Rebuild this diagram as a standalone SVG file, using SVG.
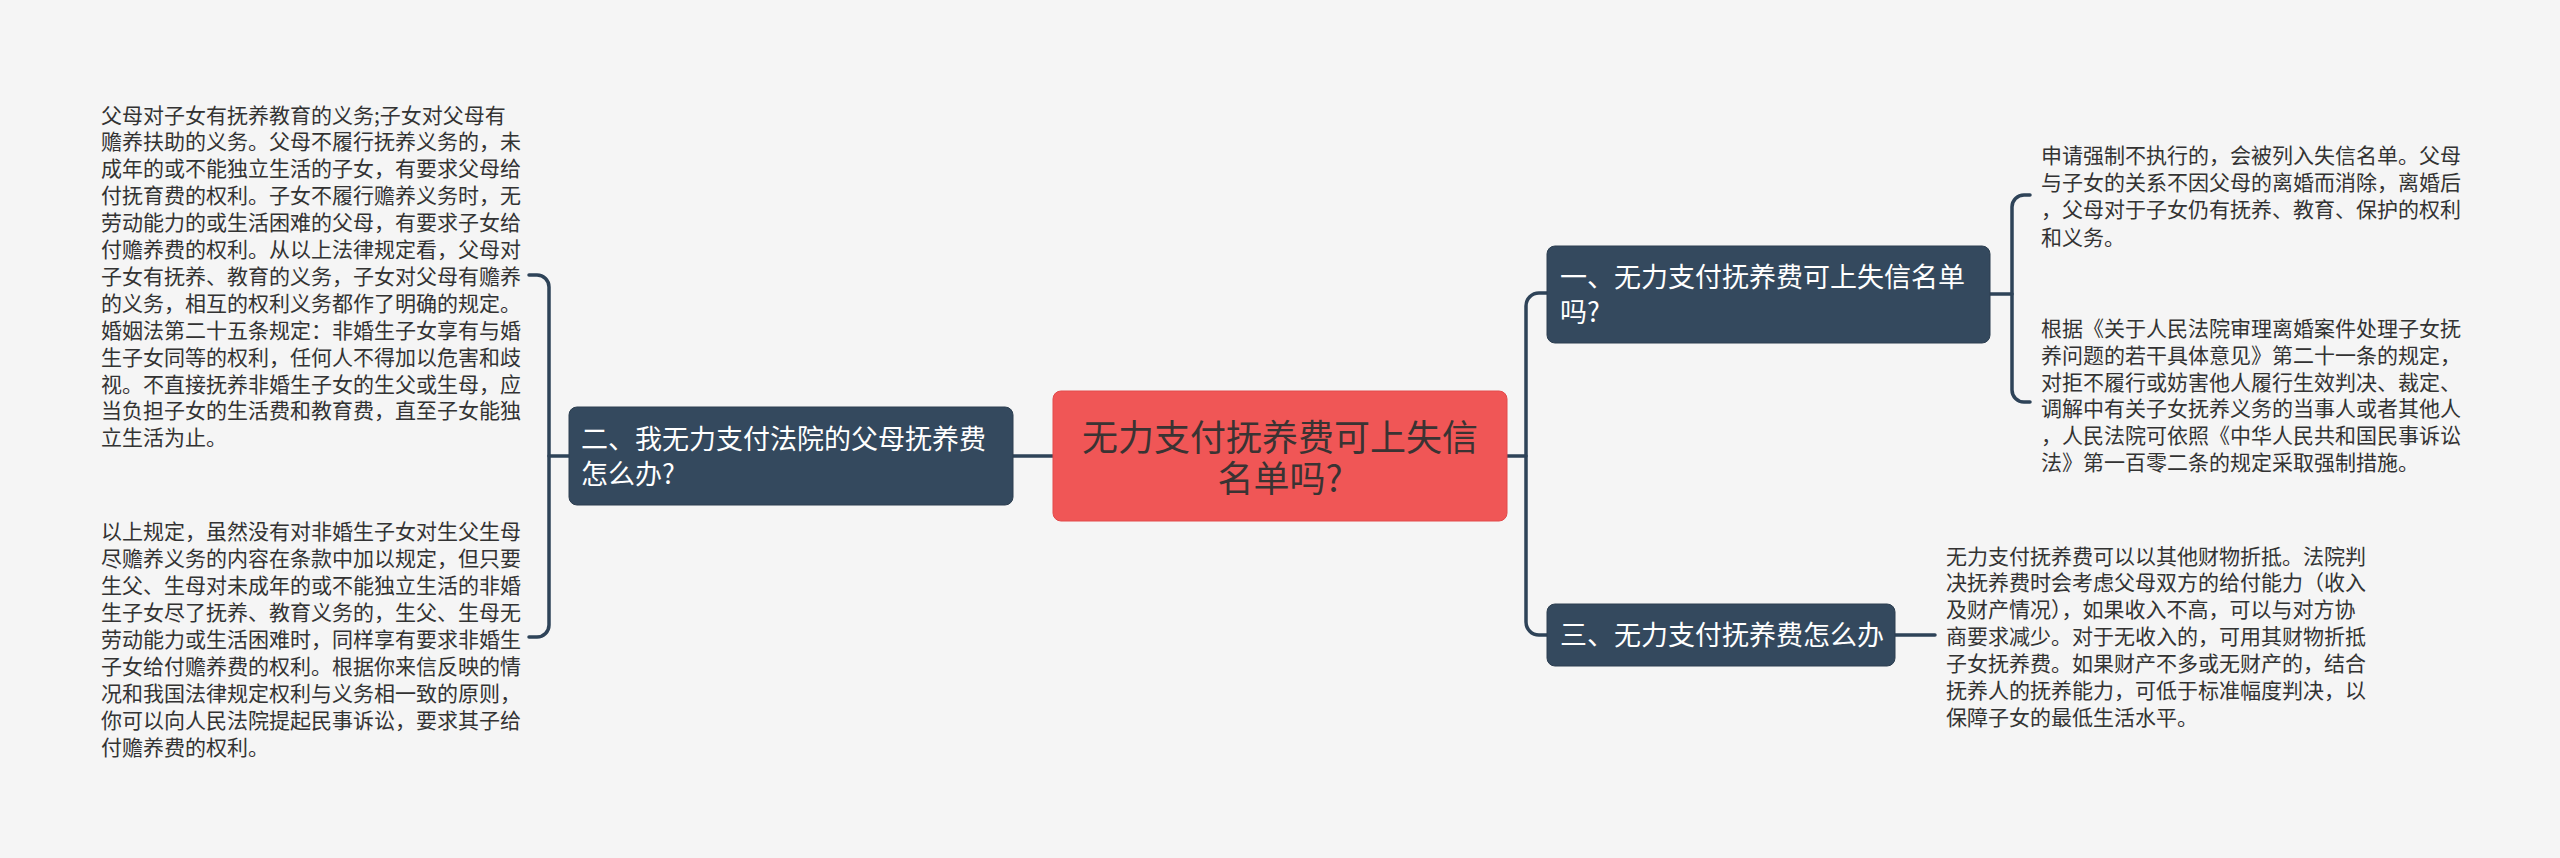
<svg xmlns="http://www.w3.org/2000/svg" width="2560" height="858" viewBox="0 0 2560 858">
<style>
.bg{fill:#f5f5f5}
.conn{fill:none;stroke:#2e4358;stroke-width:3.5;stroke-linecap:round}
.topic{fill:#34495e;stroke:#2c3e50;stroke-width:1}
.root{fill:#f05656;stroke:#e34a4a;stroke-width:1}
.tt{font-family:"Noto Sans CJK SC","Noto Sans",sans-serif;font-size:27px;fill:#ffffff}
.rt{font-family:"Noto Sans CJK SC","Noto Sans",sans-serif;font-size:36px;fill:#3a3333;text-anchor:middle}
.body{font-family:"Noto Sans CJK SC","Noto Sans",sans-serif;font-size:21px;fill:#333333}
</style>
<rect class="bg" x="0" y="0" width="2560" height="858"/>
<g id="connectors">
<path class="conn" d="M1053,456 H1013"/>
<path class="conn" d="M569,456 H549"/>
<path class="conn" d="M529,275 H537 A12,12 0 0 1 549,287 V625 A12,12 0 0 1 537,637 H529"/>
<path class="conn" d="M1507,456 H1526"/>
<path class="conn" d="M1547,293 H1539 A13,13 0 0 0 1526,306 V622 A13,13 0 0 0 1539,635 H1547"/>
<path class="conn" d="M1990,294 H2012"/>
<path class="conn" d="M2030,195 H2024 A12,12 0 0 0 2012,207 V390 A12,12 0 0 0 2024,402 H2030"/>
<path class="conn" d="M1895,635 H1935"/>
</g>
<g id="root">
<rect class="root" x="1053" y="391" width="454" height="130" rx="8"/>
<text class="rt"><tspan x="1280" y="451">无力支付抚养费可上失信</tspan><tspan x="1280" y="492">名单吗?</tspan></text>
</g>
<g id="topic1">
<rect class="topic" x="1547" y="246" width="443" height="97" rx="8"/>
<text class="tt"><tspan x="1560" y="287">一、无力支付抚养费可上失信名单</tspan><tspan x="1560" y="322">吗?</tspan></text>
</g>
<g id="topic2">
<rect class="topic" x="569" y="407" width="444" height="98" rx="8"/>
<text class="tt"><tspan x="581" y="449">二、我无力支付法院的父母抚养费</tspan><tspan x="581" y="484">怎么办?</tspan></text>
</g>
<g id="topic3">
<rect class="topic" x="1547" y="604" width="348" height="62" rx="8"/>
<text class="tt" x="1560" y="645">三、无力支付抚养费怎么办</text>
</g>
<g id="text-left-1">
<text class="body" x="101" y="122.5">父母对子女有抚养教育的义务;子女对父母有</text>
<text class="body" x="101" y="149.4">赡养扶助的义务。父母不履行抚养义务的，未</text>
<text class="body" x="101" y="176.3">成年的或不能独立生活的子女，有要求父母给</text>
<text class="body" x="101" y="203.2">付抚育费的权利。子女不履行赡养义务时，无</text>
<text class="body" x="101" y="230.1">劳动能力的或生活困难的父母，有要求子女给</text>
<text class="body" x="101" y="257">付赡养费的权利。从以上法律规定看，父母对</text>
<text class="body" x="101" y="283.9">子女有抚养、教育的义务，子女对父母有赡养</text>
<text class="body" x="101" y="310.8">的义务，相互的权利义务都作了明确的规定。</text>
<text class="body" x="101" y="337.7">婚姻法第二十五条规定：非婚生子女享有与婚</text>
<text class="body" x="101" y="364.6">生子女同等的权利，任何人不得加以危害和歧</text>
<text class="body" x="101" y="391.5">视。不直接抚养非婚生子女的生父或生母，应</text>
<text class="body" x="101" y="418.4">当负担子女的生活费和教育费，直至子女能独</text>
<text class="body" x="101" y="445.3">立生活为止。</text>
</g>
<g id="text-left-2">
<text class="body" x="101" y="538.7">以上规定，虽然没有对非婚生子女对生父生母</text>
<text class="body" x="101" y="565.7">尽赡养义务的内容在条款中加以规定，但只要</text>
<text class="body" x="101" y="592.7">生父、生母对未成年的或不能独立生活的非婚</text>
<text class="body" x="101" y="619.7">生子女尽了抚养、教育义务的，生父、生母无</text>
<text class="body" x="101" y="646.7">劳动能力或生活困难时，同样享有要求非婚生</text>
<text class="body" x="101" y="673.7">子女给付赡养费的权利。根据你来信反映的情</text>
<text class="body" x="101" y="700.7">况和我国法律规定权利与义务相一致的原则，</text>
<text class="body" x="101" y="727.7">你可以向人民法院提起民事诉讼，要求其子给</text>
<text class="body" x="101" y="754.7">付赡养费的权利。</text>
</g>
<g id="text-right-1">
<text class="body" x="2041" y="163">申请强制不执行的，会被列入失信名单。父母</text>
<text class="body" x="2041" y="190.2">与子女的关系不因父母的离婚而消除，离婚后</text>
<text class="body" x="2041" y="217.4">，父母对于子女仍有抚养、教育、保护的权利</text>
<text class="body" x="2041" y="244.6">和义务。</text>
</g>
<g id="text-right-2">
<text class="body" x="2041" y="336.3">根据《关于人民法院审理离婚案件处理子女抚</text>
<text class="body" x="2041" y="363">养问题的若干具体意见》第二十一条的规定，</text>
<text class="body" x="2041" y="389.7">对拒不履行或妨害他人履行生效判决、裁定、</text>
<text class="body" x="2041" y="416.4">调解中有关子女抚养义务的当事人或者其他人</text>
<text class="body" x="2041" y="443.1">，人民法院可依照《中华人民共和国民事诉讼</text>
<text class="body" x="2041" y="469.8">法》第一百零二条的规定采取强制措施。</text>
</g>
<g id="text-right-3">
<text class="body" x="1946" y="563.5">无力支付抚养费可以以其他财物折抵。法院判</text>
<text class="body" x="1946" y="590.4">决抚养费时会考虑父母双方的给付能力（收入</text>
<text class="body" x="1946" y="617.3">及财产情况），如果收入不高，可以与对方协</text>
<text class="body" x="1946" y="644.2">商要求减少。对于无收入的，可用其财物折抵</text>
<text class="body" x="1946" y="671.1">子女抚养费。如果财产不多或无财产的，结合</text>
<text class="body" x="1946" y="698">抚养人的抚养能力，可低于标准幅度判决，以</text>
<text class="body" x="1946" y="724.9">保障子女的最低生活水平。</text>
</g>
</svg>
